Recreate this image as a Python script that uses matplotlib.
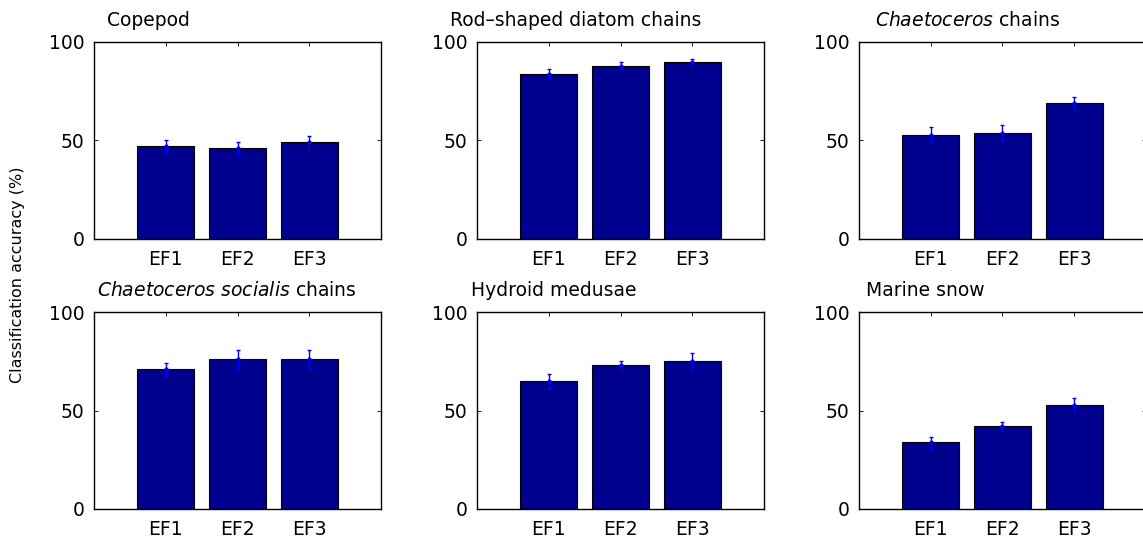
import numpy as np
import matplotlib
matplotlib.use('Agg')
import matplotlib.pyplot as plt

plt.rcParams['font.family'] = ['DejaVu Sans']
plt.rcParams['mathtext.fontset'] = 'custom'
plt.rcParams['mathtext.rm'] = 'DejaVu Sans'
plt.rcParams['mathtext.it'] = 'DejaVu Sans:italic'

# data
classes = ['Copepod', 'Rod\u2013shaped diatom chains', r'$\mathit{Chaetoceros}$ chains',
           r'$\mathit{Chaetoceros\ socialis}$ chains', 'Hydroid medusae', 'Marine snow']
ef_labels = ['EF1', 'EF2', 'EF3']
accuracy = [
    [47, 46, 49],
    [84, 88, 90],
    [53, 54, 69],
    [71, 76, 76],
    [65, 73, 75],
    [34, 42, 53],
]
errors = [
    [3.0, 3.0, 3.4],
    [2.5, 1.7, 1.3],
    [3.6, 3.8, 3.1],
    [3.3, 4.9, 4.5],
    [3.6, 1.9, 4.1],
    [2.8, 2.2, 3.3],
]

W, H = 1143, 538
fig = plt.figure(figsize=(W / 100, H / 100), dpi=100)

# axes boxes in pixels (left, top)
col_left = [94, 477, 859]
row_top = [42, 312]
ax_w, ax_h = 287, 197
title_dx = [0.045, -0.093, 0.056, 0.01, -0.021, 0.025]

x = np.arange(1, 4)
for i in range(6):
    r, c = divmod(i, 3)
    left = col_left[c] / W
    bottom = 1 - (row_top[r] + ax_h) / H
    ax = fig.add_axes([left, bottom, ax_w / W, ax_h / H])
    ax.bar(x, accuracy[i], width=0.8, color='#00008f', edgecolor='black', linewidth=0.8, zorder=2)
    ax.errorbar(x, accuracy[i], yerr=errors[i], fmt='.', color='#0000ff', ecolor='#0000ff',
                markersize=4, elinewidth=1, capsize=1.5, capthick=1, zorder=3)
    ax.set_xlim(0, 4)
    ax.set_ylim(0, 100)
    ax.set_yticks([0, 50, 100])
    ax.set_xticks(x)
    ax.set_xticklabels(ef_labels)
    ax.tick_params(direction='in', top=True, right=True, length=3, width=0.6, labelsize=13.5)
    ax.tick_params(axis='x', pad=8)
    ax.tick_params(axis='y', pad=7)
    for s in ax.spines.values():
        s.set_linewidth(1.0)
    ax.text(title_dx[i], 1.081, classes[i], transform=ax.transAxes, fontsize=13.5,
            ha='left', va='baseline')

fig.text(18 / W, 1 - 275 / H, 'Classification accuracy (%)', rotation=90, ha='center',
         va='center', fontsize=11.5)

plt.savefig('out.png', dpi=100)
